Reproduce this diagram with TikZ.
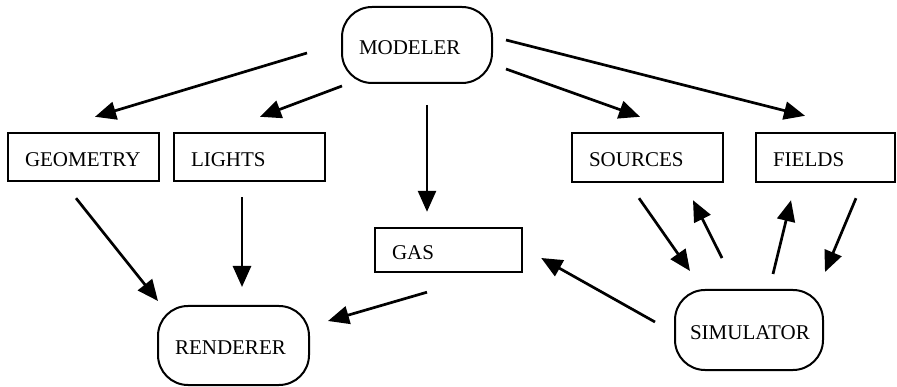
\documentclass[tikz,border=0pt]{standalone}
\usepackage{fontspec}
\setmainfont{Liberation Serif}
\usetikzlibrary{arrows.meta}
\begin{document}
\begin{tikzpicture}[x=1pt,y=-1pt,
  rectbox/.style={draw, line width=2.4pt, inner xsep=17pt, inner ysep=0pt,
    align=left, text height=19pt, text depth=0pt,
    font={\fontsize{21}{24}\selectfont\hyphenpenalty=10000 }},
  rbox/.style={rectbox, line width=2pt, rounded corners=30pt},
  arr/.style={-{Triangle[length=21pt,width=18pt]}, line width=2.7pt}]
\useasboundingbox (0,0) rectangle (897,387);
% nodes
\node[rbox, minimum width=150pt, text width=116pt, minimum height=76pt] (modeler) at (417,45) {MODELER};
\node[rectbox, minimum width=151pt, text width=117pt, minimum height=48pt] (geometry) at (83.5,157) {GEOMETRY};
\node[rectbox, minimum width=151pt, text width=117pt, minimum height=48pt] (lights) at (249.5,157) {LIGHTS};
\node[rectbox, minimum width=147pt, text width=113pt, minimum height=44pt] (gas) at (448.5,250) {GAS};
\node[rectbox, minimum width=151pt, text width=117pt, minimum height=49pt] (sources) at (647.5,157.5) {SOURCES};
\node[rectbox, minimum width=139pt, text width=105pt, minimum height=49pt] (fields) at (825.5,157.5) {FIELDS};
\node[rbox, inner xsep=15pt, minimum width=148pt, text width=118pt, minimum height=80pt] (simulator) at (749,330) {SIMULATOR};
\node[rbox, minimum width=151pt, text width=117pt, minimum height=79pt] (renderer) at (233.5,345.5) {RENDERER};
% connectors
\draw[arr] ([shift={(-34,8)}]modeler.west) -- ([shift={(11.5,-15)}]geometry.north);
\draw[arr] ([shift={(1,2)}]modeler.south west) -- ([shift={(10.5,-15)}]lights.north);
\draw[arr] ([shift={(10,21)}]modeler.south) -- ([shift={(-21.5,-15)}]gas.north);
\draw[arr] ([shift={(13,24)}]modeler.east) -- ([shift={(-7.5,-15)}]sources.north);
\draw[arr] ([shift={(13,-5)}]modeler.east) -- ([shift={(-20.5,-16)}]fields.north);
\draw[arr] ([shift={(-7.5,16)}]geometry.south) -- ([shift={(-75.5,-4)}]renderer.north);
\draw[arr] ([shift={(-7.5,15)}]lights.south) -- ([shift={(8.5,-18)}]renderer.north);
\draw[arr] ([shift={(-21.5,19)}]gas.south) -- ([shift={(18,-24.5)}]renderer.east);
\draw[arr] ([shift={(-19,-8)}]simulator.west) -- ([shift={(18,8)}]gas.east);
\draw[arr] ([shift={(-8.5,15)}]sources.south) -- ([shift={(-59,-18)}]simulator.north);
\draw[arr] ([shift={(-27,-31)}]simulator.north) -- ([shift={(45.5,17)}]sources.south);
\draw[arr] ([shift={(24,-15)}]simulator.north) -- ([shift={(-34.5,17)}]fields.south);
\draw[arr] ([shift={(30.5,15)}]fields.south) -- ([shift={(76,-17)}]simulator.north);
\end{tikzpicture}
\end{document}
